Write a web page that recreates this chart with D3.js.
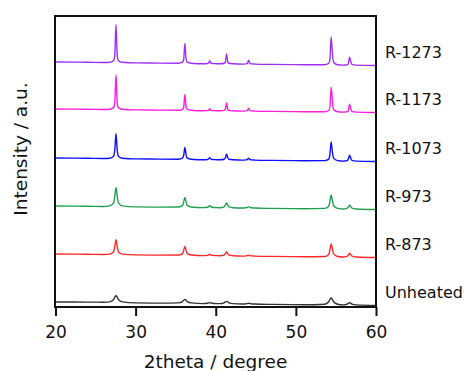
<!DOCTYPE html>
<html>
<head>
<meta charset="utf-8">
<script src="https://cdn.jsdelivr.net/npm/d3@7"></script>
<style>
  html, body { margin: 0; padding: 0; background: #fff; }
  text { font-family: "DejaVu Sans", Verdana, sans-serif; fill: #111; }
</style>
</head>
<body>
<div id="chart"></div>
<script>
// XRD patterns, stacked with a vertical offset per sample
const twoTheta = [20, 24, 26,
  26.75, 27.25, 27.4, 27.55, 27.7, 27.85, 28.35,
  30, 33,
  35.35, 35.85, 36.0, 36.15, 36.3, 36.45, 36.95,
  38.45, 38.95, 39.1, 39.25, 39.4, 39.55, 40.05,
  40.55, 41.05, 41.2, 41.35, 41.5, 41.65, 42.15,
  43.3, 43.8, 43.95, 44.1, 44.25, 44.4, 44.9,
  47, 51,
  53.6, 54.1, 54.25, 54.4, 54.55, 54.7, 55.2,
  55.9, 56.4, 56.55, 56.7, 56.85, 57.0, 57.5,
  60];

const r1273 = [3.5, 3.2, 3.0,
  3.2, 5.1, 10.4, 40.8, 10.4, 5.1, 3.2,
  2.6, 2.4,
  2.3, 3.3, 6.1, 22.1, 6.1, 3.3, 2.3,
  1.8, 2.0, 2.4, 4.8, 2.4, 2.0, 1.8,
  1.7, 2.2, 3.6, 11.6, 3.6, 2.2, 1.7,
  1.4, 1.6, 2.2, 5.4, 2.2, 1.6, 1.4,
  1.1, 0.8,
  0.8, 2.2, 6.1, 28.5, 13.1, 3.3, 0.8,
  0.4, 0.8, 1.9, 8.3, 3.9, 1.1, 0.4,
  0];

const r1173 = [3.5, 3.2, 3.0,
  3.2, 4.9, 9.8, 37.8, 9.8, 4.9, 3.2,
  2.6, 2.4,
  2.3, 3.1, 5.3, 18.1, 5.3, 3.1, 2.3,
  1.8, 1.9, 2.2, 3.8, 2.2, 1.9, 1.8,
  1.7, 2.1, 3.2, 9.6, 3.2, 2.1, 1.7,
  1.4, 1.6, 2.0, 4.4, 2.0, 1.6, 1.4,
  1.1, 0.8,
  0.8, 2.0, 5.5, 25.5, 12.3, 3.0, 0.8,
  0.4, 0.8, 1.9, 8.3, 3.9, 1.1, 0.4,
  0];

const r1073 = [3.5, 3.2, 3.0,
  3.3, 5.3, 11.6, 27.8, 11.6, 5.3, 3.3,
  2.6, 2.4,
  2.3, 3.3, 6.3, 14.1, 6.3, 3.3, 2.3,
  1.8, 2.0, 2.5, 3.8, 2.5, 2.0, 1.8,
  1.7, 2.2, 3.7, 7.6, 3.7, 2.2, 1.7,
  1.4, 1.6, 2.1, 3.4, 2.1, 1.6, 1.4,
  1.1, 0.8,
  0.9, 2.4, 7.2, 19.5, 10.0, 3.4, 0.9,
  0.4, 0.9, 2.4, 6.3, 3.3, 1.2, 0.4,
  0];

const r973 = [3.5, 3.2, 3.0,
  3.6, 6.6, 13.3, 21.8, 13.3, 6.6, 3.6,
  2.6, 2.4,
  2.5, 4.1, 7.6, 12.1, 7.6, 4.1, 2.5,
  1.9, 2.2, 2.9, 3.8, 2.9, 2.2, 1.9,
  1.8, 2.6, 4.4, 6.6, 4.4, 2.6, 1.8,
  1.5, 1.7, 2.2, 2.9, 2.2, 1.7, 1.5,
  1.1, 0.8,
  1.1, 3.3, 8.2, 14.5, 9.6, 4.0, 1.1,
  0.5, 1.1, 2.5, 4.3, 2.9, 1.3, 0.5,
  0];

const r873 = [3.5, 3.2, 3.0,
  3.4, 5.8, 11.1, 17.8, 11.1, 5.8, 3.4,
  2.6, 2.4,
  2.5, 3.9, 7.1, 11.1, 7.1, 3.9, 2.5,
  1.9, 2.1, 2.6, 3.3, 2.6, 2.1, 1.9,
  1.8, 2.4, 3.8, 5.6, 3.8, 2.4, 1.8,
  1.4, 1.6, 2.0, 2.4, 2.0, 1.6, 1.4,
  1.1, 0.8,
  1.0, 3.1, 7.7, 13.5, 9.0, 3.8, 1.0,
  0.5, 1.1, 2.5, 4.3, 2.9, 1.3, 0.5,
  0];

const unheated = [3.5, 3.4, 3.3,
  3.6, 6.0, 8.4, 9.8, 8.4, 6.0, 3.6,
  2.6, 2.4,
  2.6, 3.9, 5.3, 6.1, 5.3, 3.9, 2.6,
  1.9, 2.3, 2.6, 2.8, 2.6, 2.3, 1.9,
  1.9, 2.7, 3.6, 4.1, 3.6, 2.7, 1.9,
  1.5, 1.8, 2.0, 2.2, 2.0, 1.8, 1.5,
  1.1, 0.8,
  1.3, 3.7, 6.1, 7.5, 6.1, 3.7, 1.3,
  0.6, 1.4, 2.3, 2.8, 2.3, 1.4, 0.6,
  0];

const sampleNames = ["R-1273", "R-1173", "R-1073", "R-973", "R-873", "Unheated"];
const sampleSeries = [r1273, r1173, r1073, r973, r873, unheated];
const sampleOffsets = [241.5, 194.5, 145.5, 97.5, 49.5, 1.5];
const sampleColors = ["#a030f0", "#ff1ee0", "#1010ff", "#22a050", "#ff2828", "#333333"];
const xTicks = [20, 30, 40, 50, 60];

const W = 467, H = 371;
const margin = { top: 16, right: 91, bottom: 64, left: 55 };
const width = W - margin.left - margin.right;
const height = H - margin.top - margin.bottom;

const svg = d3.select("#chart").append("svg")
  .attr("width", W)
  .attr("height", H);

const g = svg.append("g")
  .attr("transform", `translate(${margin.left},${margin.top})`);

const x = d3.scaleLinear().domain([20, 60]).range([0.5, width]);
const y = d3.scaleLinear().domain([0, 291]).range([height, 0]);

// patterns
const line = d3.line()
  .x(d => x(d[0]))
  .y(d => y(d[1]))
  .curve(d3.curveMonotoneX);

sampleSeries.forEach((vals, i) => {
  const pts = twoTheta.map((t, j) => [t, vals[j] + sampleOffsets[i]]);
  g.append("path")
    .datum(pts)
    .attr("fill", "none")
    .attr("stroke", sampleColors[i])
    .attr("stroke-width", 1.4)
    .attr("stroke-linejoin", "round")
    .attr("d", line);

  g.append("text")
    .attr("x", width + 9)
    .attr("y", y(sampleOffsets[i]) - 8)
    .attr("font-size", 16)
    .text(sampleNames[i]);
});

// frame
g.append("rect")
  .attr("x", 0)
  .attr("y", 0)
  .attr("width", width)
  .attr("height", height)
  .attr("fill", "none")
  .attr("stroke", "#111")
  .attr("stroke-width", 2);

// x axis
const xAxis = g.append("g")
  .attr("transform", `translate(0,${height})`)
  .call(d3.axisBottom(x).tickValues(xTicks).tickSize(9).tickPadding(10));
xAxis.select(".domain").remove();
xAxis.selectAll(".tick line").attr("stroke", "#111").attr("stroke-width", 2);
xAxis.selectAll(".tick text")
  .attr("font-size", 17)
  .style("font-family", "DejaVu Sans, Verdana, sans-serif")
  .attr("fill", "#111");

// axis titles
svg.append("text")
  .attr("x", margin.left + width / 2)
  .attr("y", 368)
  .attr("text-anchor", "middle")
  .attr("font-size", 18.5)
  .text("2theta / degree");

svg.append("text")
  .attr("transform", "translate(27,149) rotate(-90)")
  .attr("text-anchor", "middle")
  .attr("font-size", 18.5)
  .text("Intensity / a.u.");
</script>
</body>
</html>
